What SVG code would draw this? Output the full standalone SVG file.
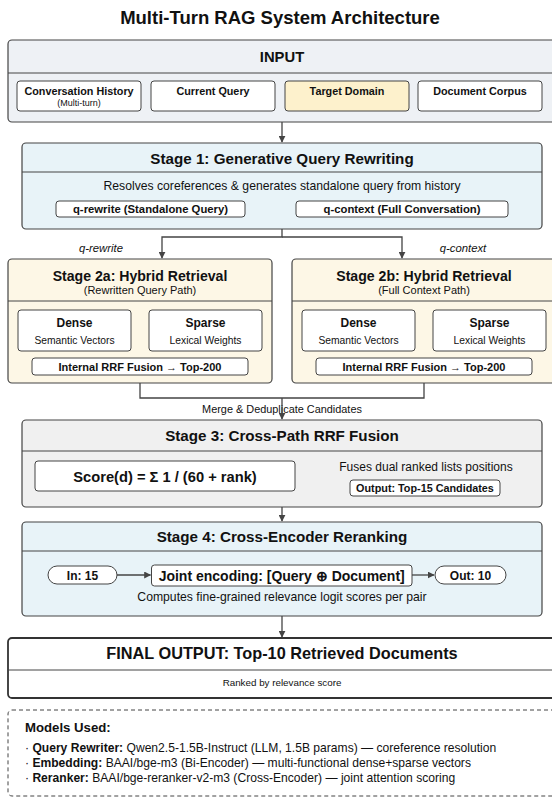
<svg xmlns="http://www.w3.org/2000/svg" width="552" height="799" viewBox="0 0 552 799">
<defs>
<marker id="ah" viewBox="0 0 10 10" refX="9" refY="5" markerWidth="7" markerHeight="7" orient="auto" markerUnits="userSpaceOnUse"><path d="M0,0 L10,5 L0,10 z" fill="#444"/></marker>
<style>
text{font-family:"Liberation Sans",Arial,sans-serif;fill:#111;text-anchor:middle}
.b{font-weight:bold}
.box{stroke:#444;stroke-width:1.2}
.in{fill:#fff;stroke:#444;stroke-width:1}
.div{stroke:#444;stroke-width:1}
.con{fill:none;stroke:#444;stroke-width:1.3}
.l{text-anchor:start}
</style>
</defs>
<rect width="552" height="799" fill="#fff"/>
<text x="280" y="24" class="b" font-size="18.5">Multi-Turn RAG System Architecture</text>

<g id="input">
<rect class="box" x="8" y="40" width="548" height="82" rx="4" fill="#eef1f5"/>
<text x="282" y="62" class="b" font-size="14.8">INPUT</text>
<line class="div" x1="8" y1="73" x2="556" y2="73"/>
<rect class="in" x="17" y="81" width="124" height="30" rx="3"/>
<text x="79" y="95" class="b" font-size="10.8">Conversation History</text>
<text x="79" y="106" font-size="9">(Multi-turn)</text>
<rect class="in" x="151" y="81" width="124" height="30" rx="3"/>
<text x="213" y="95" class="b" font-size="10.8">Current Query</text>
<rect x="285" y="81" width="124" height="30" rx="3" fill="#fdf1cc" stroke="#444" stroke-width="1"/>
<text x="347" y="95" class="b" font-size="10.8">Target Domain</text>
<rect class="in" x="418" y="81" width="124" height="30" rx="3"/>
<text x="480" y="95" class="b" font-size="10.8">Document Corpus</text>
</g>

<g id="stage1">
<rect class="box" x="22" y="143" width="520" height="86" rx="4" fill="#e8f3f8"/>
<text x="282" y="163.5" class="b" font-size="15.2">Stage 1: Generative Query Rewriting</text>
<line class="div" x1="22" y1="172" x2="542" y2="172"/>
<text x="282" y="190" font-size="12.2">Resolves coreferences &amp; generates standalone query from history</text>
<rect class="in" x="56" y="201" width="189" height="16" rx="3"/>
<text x="150.5" y="213" class="b" font-size="11.3">q-rewrite (Standalone Query)</text>
<rect class="in" x="296" y="201" width="212" height="16" rx="3"/>
<text x="402" y="213" class="b" font-size="11.3">q-context (Full Conversation)</text>
</g>

<g id="stage2a">
<rect class="box" x="8" y="259" width="264" height="124" rx="4" fill="#fdf7e6"/>
<text x="140" y="281" class="b" font-size="14.1">Stage 2a: Hybrid Retrieval</text>
<text x="140" y="294" font-size="11">(Rewritten Query Path)</text>
<line class="div" x1="8" y1="301" x2="272" y2="301"/>
<rect class="in" x="18" y="310" width="113" height="41" rx="3"/>
<text x="74.5" y="327" class="b" font-size="12">Dense</text>
<text x="74.5" y="344" font-size="10.3">Semantic Vectors</text>
<rect class="in" x="149" y="310" width="113" height="41" rx="3"/>
<text x="205.5" y="327" class="b" font-size="12">Sparse</text>
<text x="205.5" y="344" font-size="10.3">Lexical Weights</text>
<rect class="in" x="32" y="358" width="216" height="17" rx="3"/>
<text x="140" y="370.5" class="b" font-size="11">Internal RRF Fusion → Top-200</text>
</g>

<g id="stage2b">
<rect class="box" x="292" y="259" width="264" height="124" rx="4" fill="#fdf7e6"/>
<text x="424" y="281" class="b" font-size="14.1">Stage 2b: Hybrid Retrieval</text>
<text x="424" y="294" font-size="11">(Full Context Path)</text>
<line class="div" x1="292" y1="301" x2="556" y2="301"/>
<rect class="in" x="302" y="310" width="113" height="41" rx="3"/>
<text x="358.5" y="327" class="b" font-size="12">Dense</text>
<text x="358.5" y="344" font-size="10.3">Semantic Vectors</text>
<rect class="in" x="433" y="310" width="113" height="41" rx="3"/>
<text x="489.5" y="327" class="b" font-size="12">Sparse</text>
<text x="489.5" y="344" font-size="10.3">Lexical Weights</text>
<rect class="in" x="316" y="358" width="216" height="17" rx="3"/>
<text x="424" y="370.5" class="b" font-size="11">Internal RRF Fusion → Top-200</text>
</g>

<g id="stage3">
<rect class="box" x="22" y="420" width="520" height="87" rx="4" fill="#f0f0f0"/>
<text x="282" y="440.5" class="b" font-size="15.2">Stage 3: Cross-Path RRF Fusion</text>
<line class="div" x1="22" y1="451" x2="542" y2="451"/>
<rect class="in" x="35" y="461" width="260" height="30" rx="3"/>
<text x="165" y="481.5" class="b" font-size="14.7">Score(d) = Σ 1 / (60 + rank)</text>
<text x="426" y="471" font-size="12">Fuses dual ranked lists positions</text>
<rect class="in" x="350" y="480" width="150" height="16" rx="3"/>
<text x="425" y="492" class="b" font-size="10.8">Output: Top-15 Candidates</text>
</g>

<g id="stage4">
<rect class="box" x="22" y="522" width="520" height="94" rx="4" fill="#e8f3f8"/>
<text x="282" y="542" class="b" font-size="15.2">Stage 4: Cross-Encoder Reranking</text>
<line class="div" x1="22" y1="551" x2="542" y2="551"/>
<rect class="in" x="48" y="566" width="69" height="18" rx="9"/>
<text x="82.5" y="579.5" class="b" font-size="12">In: 15</text>
<rect class="in" x="151.5" y="565" width="260.5" height="21" rx="3"/>
<text x="281.7" y="580.5" class="b" font-size="14">Joint encoding: [Query ⊕ Document]</text>
<rect class="in" x="435" y="566" width="71" height="18" rx="9"/>
<text x="470.5" y="579.5" class="b" font-size="12">Out: 10</text>
<text x="282" y="601" font-size="12.2">Computes fine-grained relevance logit scores per pair</text>
</g>

<g id="final">
<rect x="8" y="638" width="548" height="60" rx="4" fill="#fff" stroke="#333" stroke-width="1.8"/>
<text x="282" y="659" class="b" font-size="16.3">FINAL OUTPUT: Top-10 Retrieved Documents</text>
<line class="div" x1="8" y1="670" x2="556" y2="670"/>
<text x="282" y="686" font-size="9.8">Ranked by relevance score</text>
</g>

<g id="models">
<rect x="8" y="710" width="548" height="86" rx="4" fill="#fff" stroke="#444" stroke-width="1" stroke-dasharray="4,3"/>
<text x="25" y="732" class="b l" font-size="13.2">Models Used:</text>
<text x="25" y="752" class="l" font-size="12.1">· <tspan font-weight="bold">Query Rewriter:</tspan> Qwen2.5-1.5B-Instruct (LLM, 1.5B params) — coreference resolution</text>
<text x="25" y="767" class="l" font-size="12.1">· <tspan font-weight="bold">Embedding:</tspan> BAAI/bge-m3 (Bi-Encoder) — multi-functional dense+sparse vectors</text>
<text x="25" y="782" class="l" font-size="12.1">· <tspan font-weight="bold">Reranker:</tspan> BAAI/bge-reranker-v2-m3 (Cross-Encoder) — joint attention scoring</text>
</g>

<g id="connectors">
<line class="con" x1="282" y1="122" x2="282" y2="142" marker-end="url(#ah)"/>
<polyline class="con" points="282,229 282,237 162,237 162,258" marker-end="url(#ah)"/>
<polyline class="con" points="282,237 402,237 402,258" marker-end="url(#ah)"/>
<text x="101" y="252" font-size="11.3" font-style="italic">q-rewrite</text>
<text x="463" y="252" font-size="11.3" font-style="italic">q-context</text>
<polyline class="con" points="140,383 140,398 424,398 424,383"/>
<text x="282" y="413" font-size="10.9">Merge &amp; Deduplicate Candidates</text>
<line class="con" x1="282" y1="398" x2="282" y2="419" marker-end="url(#ah)"/>
<line class="con" x1="282" y1="507" x2="282" y2="521" marker-end="url(#ah)"/>
<line class="con" x1="117" y1="575" x2="150.5" y2="575" marker-end="url(#ah)"/>
<line class="con" x1="412" y1="575" x2="434" y2="575" marker-end="url(#ah)"/>
<line class="con" x1="282" y1="616" x2="282" y2="637" marker-end="url(#ah)"/>
</g>
</svg>
